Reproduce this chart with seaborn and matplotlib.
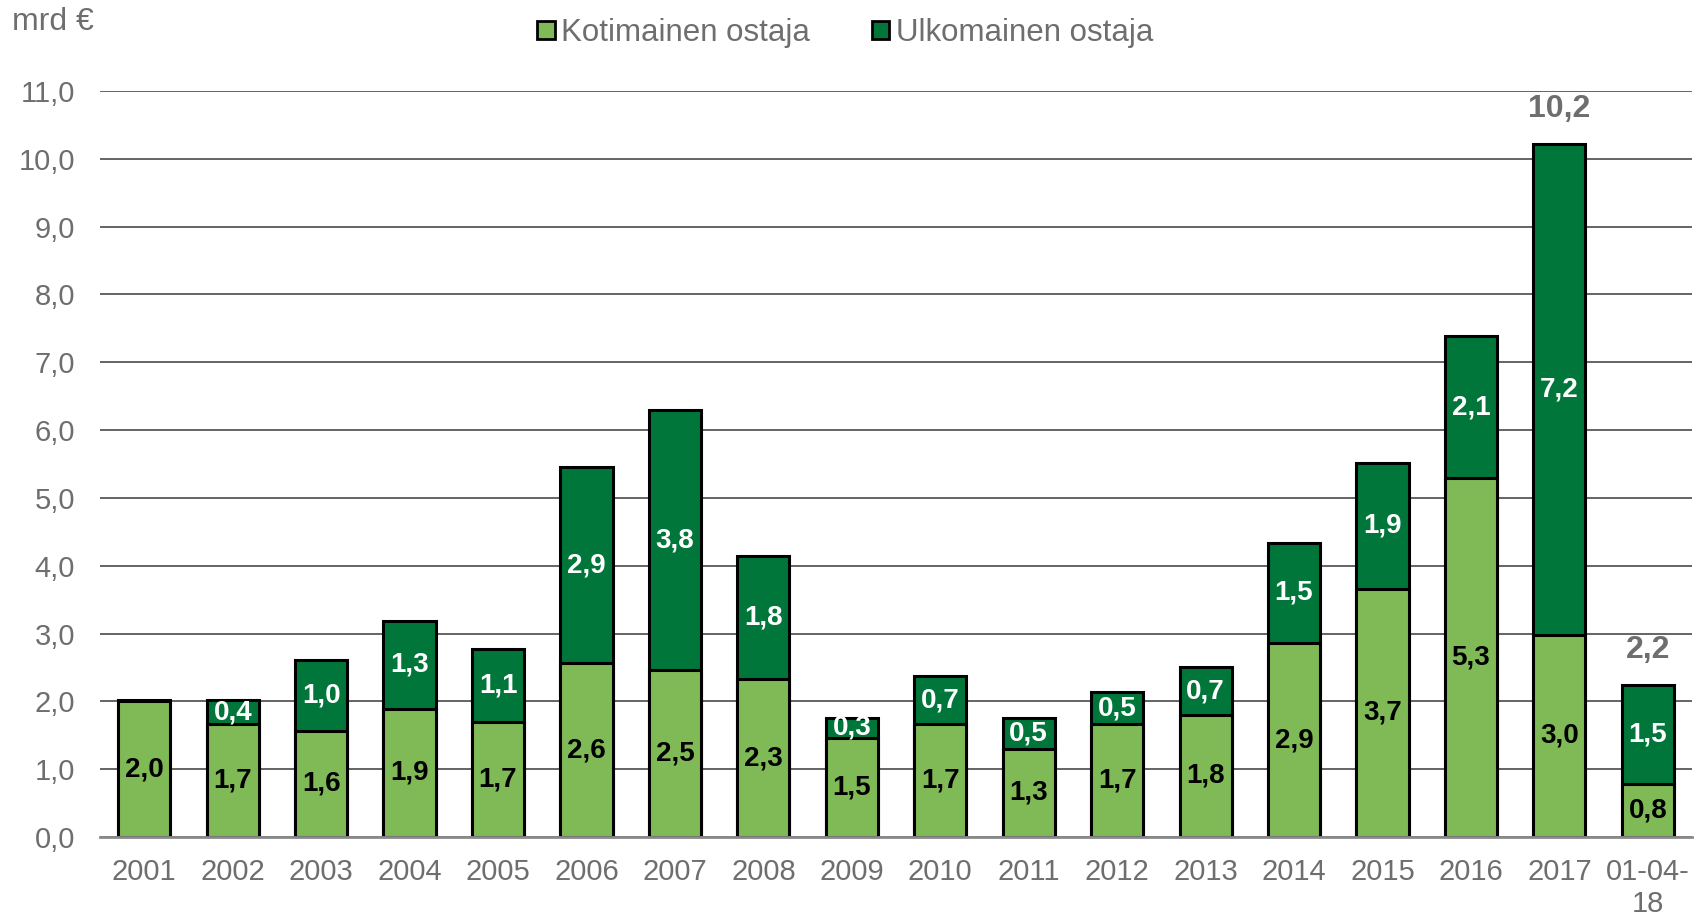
import numpy as np
import pandas as pd
import matplotlib
matplotlib.use("Agg")
import matplotlib.pyplot as plt
import seaborn as sns
from matplotlib.patches import Patch
from matplotlib.ticker import FuncFormatter, MultipleLocator

sns.set_style("white")
plt.rcParams['font.family'] = ['Liberation Sans', 'DejaVu Sans']

# Data (mrd €)
years = ["2001", "2002", "2003", "2004", "2005", "2006", "2007", "2008", "2009",
         "2010", "2011", "2012", "2013", "2014", "2015", "2016", "2017", "01-04-\n18"]
domestic = [2.00, 1.66, 1.57, 1.89, 1.70, 2.56, 2.46, 2.33, 1.46,
            1.66, 1.30, 1.66, 1.80, 2.86, 3.66, 5.29, 2.98, 0.78]
foreign = [0.02, 0.36, 1.04, 1.30, 1.07, 2.89, 3.83, 1.82, 0.30,
           0.71, 0.46, 0.48, 0.70, 1.48, 1.86, 2.10, 7.24, 1.46]
total_labelled = ["2017", "01-04-\n18"]

light = "#7FBA57"
dark = "#00763A"
grey = "#6E6E6E"

df = pd.DataFrame({"year": years, "dom": domestic, "for": foreign})
df["total"] = df["dom"] + df["for"]

fig = plt.figure(figsize=(17.04, 9.16), dpi=100)
ax = fig.add_axes([0.0587, 0.0862, 0.9343, 0.8145])

# stacked bars: total first, domestic on top of it
sns.barplot(data=df, x="year", y="total", color=dark, saturation=1, width=0.59,
            edgecolor="black", linewidth=2.2, ax=ax, zorder=3)
sns.barplot(data=df, x="year", y="dom", color=light, saturation=1, width=0.59,
            edgecolor="black", linewidth=2.2, ax=ax, zorder=4)

fmt = lambda v: ("%.1f" % v).replace(".", ",")

for i, row in df.iterrows():
    ax.text(i, row["dom"] / 2, fmt(row["dom"]), ha="center", va="center",
            fontsize=20, fontweight="bold", color="black", zorder=6)
    if row["for"] >= 0.1:
        ax.text(i, row["dom"] + row["for"] / 2, fmt(row["for"]), ha="center", va="center",
                fontsize=20, fontweight="bold", color="white", zorder=6)
    if row["year"] in total_labelled:
        ax.text(i, row["total"] + 0.3, fmt(row["total"]), ha="center", va="bottom",
                fontsize=23, fontweight="bold", color=grey, zorder=6)

ax.set_ylim(0, 11)
ax.set_xlim(-0.5, len(years) - 0.5)
ax.yaxis.set_major_locator(MultipleLocator(1))
ax.yaxis.set_major_formatter(FuncFormatter(lambda v, p: fmt(v)))
ax.grid(axis="y", color="#3A3A3A", linewidth=1.1, zorder=0)
ax.set_axisbelow(True)
for s in ["top", "right", "left"]:
    ax.spines[s].set_visible(False)
ax.spines["bottom"].set_color("#8A8A8A")
ax.spines["bottom"].set_linewidth(2)
ax.spines["bottom"].set_zorder(5)
ax.tick_params(axis="both", length=0, labelsize=21, labelcolor=grey)
ax.tick_params(axis="y", pad=18)
ax.tick_params(axis="x", pad=15)
ax.set_xlabel("")
ax.set_ylabel("")

fig.text(0.007, 0.976, "mrd €", fontsize=23, color=grey, ha="left", va="center")

handles = [Patch(facecolor=light, edgecolor="black", linewidth=2, label="Kotimainen ostaja"),
           Patch(facecolor=dark, edgecolor="black", linewidth=2, label="Ulkomainen ostaja")]
leg = fig.legend(handles=handles, loc="center", bbox_to_anchor=(0.496, 0.964), ncol=2,
                 frameon=False, fontsize=22.5, handlelength=0.55, handleheight=0.55,
                 handletextpad=0.2, columnspacing=2.0)
for t in leg.get_texts():
    t.set_color(grey)

fig.savefig("out.png", dpi=100)
